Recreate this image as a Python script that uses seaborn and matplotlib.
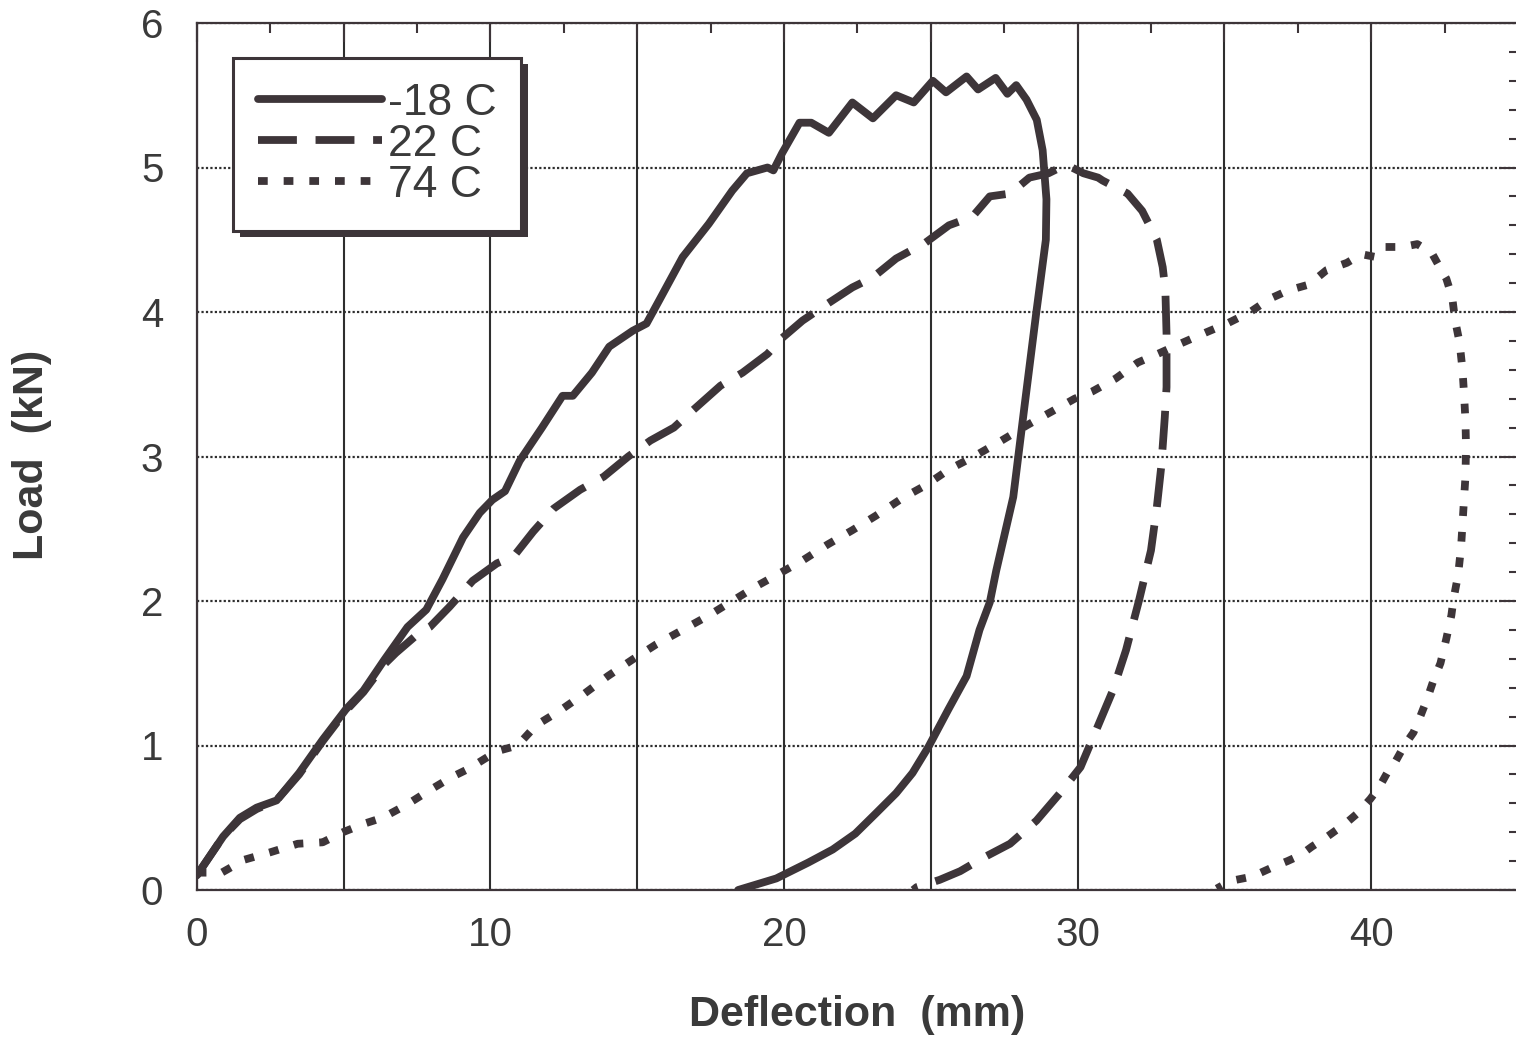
import matplotlib
matplotlib.use("Agg")
import matplotlib.pyplot as plt
import numpy as np
import pandas as pd
import seaborn as sns
from matplotlib.ticker import MultipleLocator, FuncFormatter
from matplotlib.patches import Rectangle

# ---------------- data ----------------
series_names = ["-18 C", "22 C", "74 C"]

x_m18 = [0.0, 0.9, 1.47, 2.04, 2.72, 3.49, 4.29, 5.08, 5.68, 6.38, 7.18, 7.82, 8.37,
         9.07, 9.64, 10.07, 10.5, 11.0, 11.76, 12.46, 12.81, 13.46, 14.05, 14.85, 15.32,
         15.75, 16.55, 17.44, 18.24, 18.74, 19.44, 19.64, 19.94, 20.53, 20.93, 21.53,
         22.33, 23.03, 23.82, 24.42, 25.07, 25.52, 26.22, 26.61, 27.21, 27.61, 27.91,
         28.26, 28.61, 28.81, 28.94, 28.92, 28.59, 28.20, 27.81, 27.23, 27.01,
         26.66, 26.22, 25.60, 24.92, 24.38, 23.82, 23.13, 22.43, 21.66, 20.83, 19.74, 18.44]
y_m18 = [0.10, 0.37, 0.50, 0.57, 0.62, 0.81, 1.04, 1.25, 1.38, 1.59, 1.82, 1.94, 2.15,
         2.44, 2.61, 2.70, 2.76, 2.97, 3.20, 3.42, 3.42, 3.58, 3.76, 3.87, 3.92,
         4.08, 4.38, 4.61, 4.84, 4.96, 5.00, 4.98, 5.10, 5.31, 5.31, 5.24,
         5.45, 5.34, 5.50, 5.45, 5.60, 5.52, 5.63, 5.54, 5.62, 5.51, 5.57,
         5.47, 5.33, 5.12, 4.78, 4.50, 3.99, 3.36, 2.72, 2.21, 1.99,
         1.80, 1.48, 1.25, 0.99, 0.81, 0.67, 0.53, 0.39, 0.28, 0.19, 0.08, 0.00]

x_22 = [0.0, 0.9, 1.47, 2.04, 2.72, 3.49, 4.29, 5.08, 5.68, 6.38, 6.78, 7.58, 7.94,
        8.61, 9.40, 10.22, 10.80, 11.46, 12.16, 13.06, 13.86, 14.70, 15.45, 16.25,
        16.90, 17.84, 18.59, 19.44, 19.94, 20.63, 21.43, 22.33, 23.03, 23.82, 24.82,
        25.62, 26.42, 27.01, 27.71, 28.36, 29.01, 29.61, 30.20, 30.70, 30.85, 31.70,
        32.20, 32.70, 32.90, 32.99, 33.03, 33.03, 32.97, 32.85, 32.70, 32.50, 32.10,
        31.65, 31.20, 30.60, 30.10, 29.40, 28.60, 27.70, 26.76, 26.00, 25.30, 24.52,
        24.40]
y_22 = [0.10, 0.37, 0.49, 0.56, 0.62, 0.80, 1.03, 1.24, 1.37, 1.56, 1.64, 1.78, 1.82,
        1.96, 2.14, 2.26, 2.31, 2.48, 2.64, 2.77, 2.86, 3.00, 3.11, 3.20,
        3.32, 3.49, 3.58, 3.71, 3.82, 3.94, 4.05, 4.17, 4.24, 4.37, 4.48,
        4.60, 4.66, 4.80, 4.82, 4.93, 4.96, 5.02, 4.96, 4.93, 4.91, 4.82,
        4.70, 4.50, 4.31, 4.15, 3.85, 3.48, 3.27, 2.93, 2.65, 2.35, 2.01,
        1.66, 1.38, 1.09, 0.85, 0.67, 0.48, 0.32, 0.22, 0.13, 0.07, 0.02,
        0.00]

x_74 = [0.0, 0.85, 1.63, 2.49, 3.44, 4.29, 4.98, 5.72, 6.33, 7.15, 7.93, 8.67, 9.27,
        10.22, 10.93, 11.56, 12.36, 13.21, 14.00, 14.88, 15.65, 16.55, 17.44, 18.24,
        19.04, 19.84, 20.63, 21.48, 22.33, 23.13, 24.02, 24.82, 25.62, 26.47, 27.41,
        28.31, 29.11, 29.90, 30.50, 31.30, 32.05, 32.84, 33.49, 34.39, 35.09, 35.88,
        36.53, 37.18, 37.88, 38.48, 39.17, 39.67, 40.17, 40.47, 41.07, 41.57, 42.06,
        42.36, 42.56, 42.76, 42.86, 43.01, 43.11, 43.16, 43.21, 43.23, 43.21, 43.16,
        43.10, 43.06, 42.96, 42.81, 42.73, 42.56, 42.36, 42.12, 41.92, 41.67, 41.44,
        41.13, 40.83, 40.57, 40.27, 39.97, 39.53, 39.07, 38.78, 38.44, 37.98, 37.58,
        37.15, 36.78, 36.24, 35.88, 35.39, 35.09, 34.74]
y_74 = [0.12, 0.12, 0.21, 0.26, 0.32, 0.33, 0.40, 0.46, 0.50, 0.59, 0.69, 0.78, 0.84,
        0.96, 1.00, 1.14, 1.24, 1.36, 1.48, 1.60, 1.70, 1.80, 1.90, 2.00,
        2.10, 2.19, 2.28, 2.39, 2.49, 2.59, 2.71, 2.80, 2.91, 3.00, 3.11,
        3.22, 3.31, 3.40, 3.45, 3.54, 3.65, 3.72, 3.78, 3.86, 3.92, 4.00,
        4.09, 4.15, 4.19, 4.29, 4.34, 4.40, 4.38, 4.45, 4.45, 4.47, 4.41,
        4.30, 4.23, 4.10, 3.94, 3.79, 3.60, 3.44, 3.25, 3.07, 2.86, 2.70,
        2.50, 2.37, 2.18, 2.02, 1.90, 1.74, 1.57, 1.45, 1.33, 1.20, 1.09,
        1.00, 0.89, 0.82, 0.71, 0.63, 0.53, 0.45, 0.41, 0.36, 0.30, 0.24,
        0.20, 0.17, 0.12, 0.09, 0.07, 0.05, 0.01]

x_ticks = [0, 10, 20, 30, 40]
y_ticks = [0, 1, 2, 3, 4, 5, 6]
x_label = "Deflection  (mm)"
y_label = "Load  (kN)"

# ---------------- style ----------------
sns.set_theme(style="white")
plt.rcParams["font.family"] = ["Liberation Sans", "DejaVu Sans"]

ink = "#3d3539"
txt = "#3a3a3a"
gridc = "#2e2e2e"

W, H = 1516, 1040
fig = plt.figure(figsize=(W / 100, H / 100), dpi=100)
fig.patch.set_facecolor("white")
ax_l, ax_r, ax_b, ax_t = 196.7, 1518.0, 890.0, 23.0
ax = fig.add_axes([ax_l / W, (H - ax_b) / H, (ax_r - ax_l) / W, (ax_b - ax_t) / H])

styles = {
    "-18 C": "-",
    "22 C": (0, (5.0, 2.4)),
    "74 C": (0, (1.25, 2.05)),
}
xs = {"-18 C": x_m18, "22 C": x_22, "74 C": x_74}
ys = {"-18 C": y_m18, "22 C": y_22, "74 C": y_74}

for name in series_names:
    d = pd.DataFrame({"Deflection": xs[name], "Load": ys[name]})
    sns.lineplot(data=d, x="Deflection", y="Load", sort=False, estimator=None,
                 color=ink, linewidth=5.6, linestyle=styles[name], ax=ax,
                 solid_joinstyle="round", solid_capstyle="round")

ax.set_xlim(0, 45)
ax.set_ylim(0, 6)

# ticks
ax.xaxis.set_major_locator(MultipleLocator(5))
ax.xaxis.set_minor_locator(MultipleLocator(2.5))
ax.xaxis.set_major_formatter(FuncFormatter(
    lambda v, p: f"{int(round(v))}" if int(round(v)) in x_ticks and abs(v - round(v)) < 1e-6 else ""))
ax.yaxis.set_major_locator(MultipleLocator(1))
ax.yaxis.set_minor_locator(MultipleLocator(0.2))
ax.yaxis.set_major_formatter(FuncFormatter(
    lambda v, p: f"{int(round(v))}" if int(round(v)) in y_ticks else ""))

ax.tick_params(axis="both", which="both", direction="in", top=True, right=True,
               color=ink, width=1.5, labelcolor=txt, labelsize=29)
ax.tick_params(axis="x", which="major", length=14, pad=19)
ax.tick_params(axis="x", which="minor", length=7.5)
ax.tick_params(axis="y", which="major", length=14, pad=24)
ax.tick_params(axis="y", which="minor", length=6.5)

for s in ax.spines.values():
    s.set_color(ink)
    s.set_linewidth(1.6)

# grid: solid-ish vertical, dotted horizontal
ax.set_axisbelow(True)
ax.grid(False)
ax.xaxis.grid(True, which="major", color=gridc, linewidth=1.5, linestyle="-")
ax.yaxis.grid(True, which="major", color=gridc, linewidth=1.6, linestyle=(0, (1.0, 1.0)))

# axis labels
ax.set_xlabel(x_label, fontsize=31, fontweight="bold", color=txt)
ax.set_ylabel(y_label, fontsize=31, fontweight="bold", color=txt)
ax.xaxis.label.set_va("center")
ax.yaxis.label.set_va("center")
axw, axh = ax_r - ax_l, ax_b - ax_t
ax.xaxis.set_label_coords((857 - ax_l) / axw, (ax_b - 1015) / axh)
ax.yaxis.set_label_coords((32 - ax_l) / axw, (ax_b - 455) / axh)

# legend
handles = ax.get_lines()[:3]
leg = ax.legend(handles, series_names, loc="upper left",
                bbox_to_anchor=((233 - ax_l) / axw, (ax_b - 58) / axh),
                borderaxespad=0, frameon=True, fancybox=False, shadow=False,
                handlelength=2.8, handletextpad=0.12, labelspacing=0.0,
                borderpad=0.56, fontsize=32)
fr = leg.get_frame()
fr.set_edgecolor(ink)
fr.set_linewidth(2.2)
fr.set_facecolor("white")
fr.set_alpha(1.0)
for t in leg.get_texts():
    t.set_color(txt)

fig.canvas.draw()
bb = fr.get_window_extent().transformed(ax.transAxes.inverted())
dx, dy = 6.5 / axw, 6.5 / axh
shadow = Rectangle((bb.x0 + dx, bb.y0 - dy), bb.width, bb.height,
                   transform=ax.transAxes, facecolor=ink, edgecolor="none",
                   zorder=leg.get_zorder() - 0.1, clip_on=False)
ax.add_artist(shadow)

fig.savefig("out.png", dpi=100, facecolor="white")
